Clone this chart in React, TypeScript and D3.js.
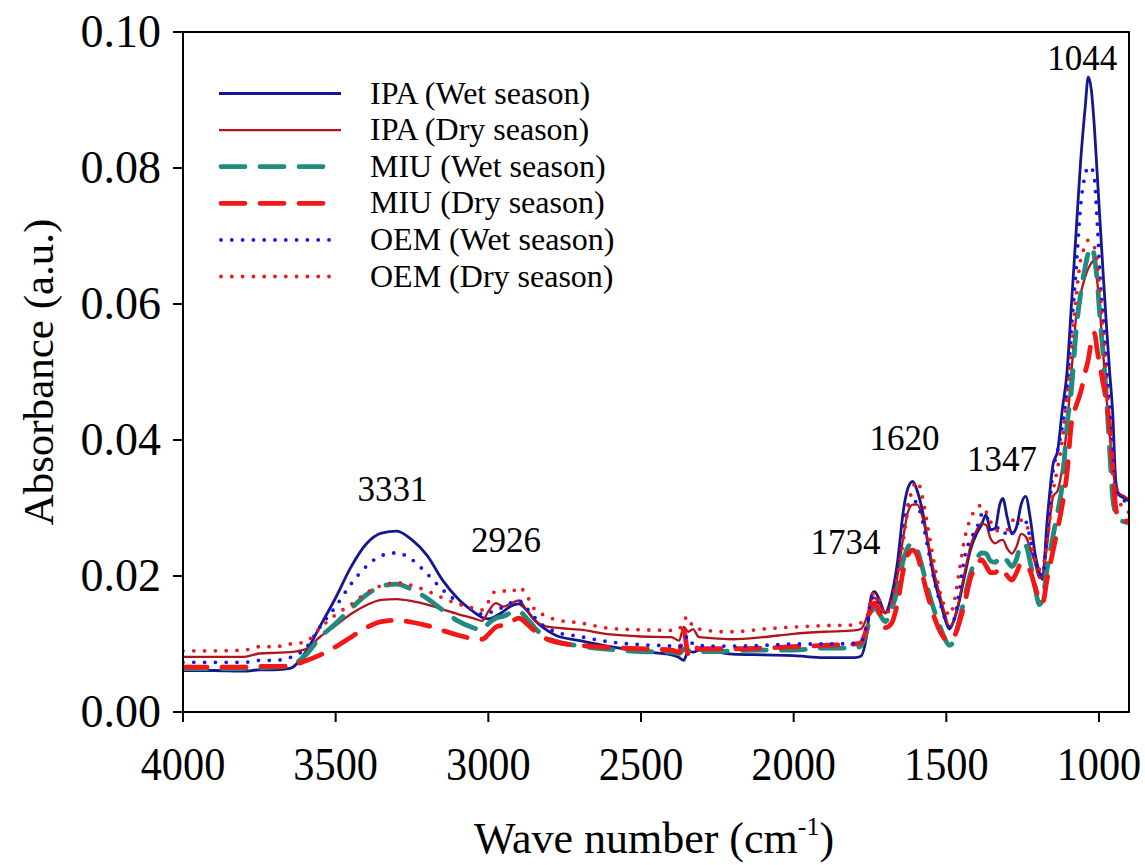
import React from "react";
import * as d3 from "d3";

// Wavenumber grid (cm-1)
const wavenumbers = [
  4000, 3900, 3800, 3750, 3700, 3650, 3600, 3550, 3500, 3450, 3400, 3350, 3300, 3250, 3200, 3150, 3100, 3050, 3020, 3000,
  2975, 2950, 2925, 2900, 2875, 2850, 2820, 2780, 2700, 2600, 2500, 2400, 2375, 2360, 2345, 2330, 2310, 2280, 2250, 2200,
  2100, 2000, 1900,
  1800, 1780, 1760, 1745, 1735, 1720, 1700, 1680, 1660, 1640, 1625, 1610, 1595, 1580, 1560, 1540, 1520, 1505, 1490, 1475,
  1460, 1440, 1420, 1400, 1385, 1370, 1355, 1340, 1325, 1315, 1300, 1285, 1270, 1255, 1240, 1225, 1210, 1195, 1185, 1170,
  1150, 1135, 1120, 1105, 1090, 1075, 1060, 1045, 1035, 1025, 1015, 1005, 995, 985, 975, 965, 955, 945, 935, 920, 900,
];

const ipaWet = [
  0.0061, 0.0061, 0.006, 0.0062, 0.0062, 0.0064, 0.0087, 0.0127, 0.0168, 0.0213, 0.0247, 0.0263, 0.0266, 0.0253, 0.023, 0.0194, 0.0167, 0.0148, 0.0139, 0.0137,
  0.0141, 0.0148, 0.0156, 0.0159, 0.015, 0.0136, 0.0124, 0.0113, 0.0105, 0.0096, 0.0089, 0.0084, 0.008, 0.0076, 0.009, 0.0088, 0.0091, 0.0089, 0.0088, 0.0085,
  0.0084, 0.0083, 0.008,
  0.008, 0.0082, 0.0115, 0.0172, 0.0177, 0.0166, 0.0146, 0.017, 0.022, 0.0298, 0.033, 0.0339, 0.0325, 0.03, 0.0248, 0.0196, 0.0163, 0.0138, 0.0122, 0.0135,
  0.0158, 0.02, 0.024, 0.0263, 0.0275, 0.029, 0.0268, 0.027, 0.0305, 0.0314, 0.0285, 0.0262, 0.0272, 0.0305, 0.0317, 0.0285, 0.0235, 0.0205, 0.0195, 0.028,
  0.0365, 0.0385, 0.0445, 0.0498, 0.06, 0.0705, 0.081, 0.089, 0.0934, 0.0915, 0.086, 0.0785, 0.071, 0.0635, 0.0565, 0.05, 0.044, 0.034, 0.032, 0.0315, 0.031,
];

const ipaDry = [
  0.0081, 0.0081, 0.0081, 0.0086, 0.0087, 0.0088, 0.0092, 0.0111, 0.0127, 0.0144, 0.0157, 0.0165, 0.0166, 0.0163, 0.0158, 0.0151, 0.0144, 0.0138, 0.0134, 0.0148,
  0.016, 0.0155, 0.016, 0.0164, 0.015, 0.0135, 0.0127, 0.0124, 0.0121, 0.0114, 0.0111, 0.011, 0.0105, 0.0125, 0.0118, 0.0122, 0.011, 0.0109, 0.0108, 0.0107,
  0.011, 0.0115, 0.0118,
  0.012, 0.0122, 0.014, 0.0165, 0.0168, 0.016, 0.0145, 0.016, 0.02, 0.026, 0.0295, 0.0305, 0.0305, 0.029, 0.025, 0.0205, 0.017, 0.0145, 0.0125, 0.0135,
  0.016, 0.0205, 0.0245, 0.0268, 0.0277, 0.0275, 0.0255, 0.0248, 0.0252, 0.0253, 0.024, 0.0233, 0.0243, 0.0262, 0.0258, 0.024, 0.022, 0.0197, 0.02, 0.0245,
  0.0317, 0.0326, 0.036, 0.042, 0.05, 0.058, 0.0615, 0.064, 0.0652, 0.066, 0.0665, 0.063, 0.058, 0.052, 0.046, 0.041, 0.036, 0.033, 0.0322, 0.0318, 0.0312,
];

const miuWet = [
  0.0064, 0.0064, 0.0064, 0.0065, 0.0066, 0.0068, 0.0083, 0.011, 0.013, 0.0152, 0.0172, 0.0185, 0.0188, 0.018, 0.0167, 0.015, 0.0134, 0.0124, 0.012, 0.013,
  0.0138, 0.0141, 0.0146, 0.0148, 0.0138, 0.0125, 0.0112, 0.0104, 0.0097, 0.0092, 0.0089, 0.0088, 0.0086, 0.0092, 0.009, 0.0092, 0.0089, 0.0089, 0.0089, 0.009,
  0.0091, 0.0091, 0.0094,
  0.0094, 0.0097, 0.012, 0.0148, 0.0153, 0.0145, 0.0133, 0.015, 0.018, 0.0225, 0.0243, 0.0248, 0.0238, 0.0215, 0.018, 0.015, 0.0125, 0.0108, 0.0098, 0.0105,
  0.013, 0.0168, 0.0205, 0.0225, 0.0234, 0.0233, 0.0222, 0.022, 0.0228, 0.023, 0.0222, 0.0214, 0.0225, 0.0247, 0.0245, 0.022, 0.0185, 0.0158, 0.0165, 0.021,
  0.026, 0.0295, 0.0335, 0.042, 0.0475, 0.056, 0.0615, 0.0655, 0.0675, 0.0684, 0.067, 0.063, 0.057, 0.052, 0.046, 0.0385, 0.0315, 0.0292, 0.0283, 0.028, 0.0278,
];

const miuDry = [
  0.0066, 0.0066, 0.0066, 0.0067, 0.0067, 0.0068, 0.0075, 0.0084, 0.0096, 0.011, 0.0124, 0.0133, 0.0135, 0.0132, 0.0127, 0.012, 0.0113, 0.0108, 0.0107, 0.0114,
  0.0125, 0.0128, 0.0133, 0.0138, 0.013, 0.012, 0.011, 0.0103, 0.0098, 0.0095, 0.0093, 0.0091, 0.0088, 0.012, 0.0085, 0.0097, 0.0093, 0.0093, 0.0093, 0.0093,
  0.0094, 0.0096, 0.0098,
  0.01, 0.0102, 0.0125, 0.0155, 0.016, 0.0148, 0.0124, 0.013, 0.016, 0.021, 0.0232, 0.0238, 0.023, 0.0205, 0.017, 0.014, 0.0118, 0.0108, 0.0105, 0.011,
  0.0128, 0.016, 0.0198, 0.0215, 0.0224, 0.0215, 0.0205, 0.0205, 0.0212, 0.021, 0.02, 0.0194, 0.0205, 0.0219, 0.0215, 0.0207, 0.0185, 0.0165, 0.016, 0.0195,
  0.0238, 0.027, 0.0305, 0.035, 0.0425, 0.045, 0.047, 0.05, 0.0518, 0.0545, 0.0557, 0.053, 0.0505, 0.048, 0.0455, 0.042, 0.036, 0.03, 0.0285, 0.028, 0.0282,
];

const oemWet = [
  0.0073, 0.0073, 0.0073, 0.0076, 0.0076, 0.008, 0.0093, 0.0126, 0.0155, 0.0188, 0.0214, 0.023, 0.0234, 0.0224, 0.0203, 0.018, 0.0162, 0.015, 0.0144, 0.0146,
  0.0149, 0.0155, 0.0161, 0.0164, 0.0153, 0.014, 0.0127, 0.0118, 0.0111, 0.0103, 0.0099, 0.0097, 0.0096, 0.0105, 0.0112, 0.01, 0.0098, 0.0097, 0.0097, 0.0097,
  0.0098, 0.01, 0.01,
  0.0101, 0.0103, 0.013, 0.0168, 0.0172, 0.016, 0.0142, 0.0165, 0.021, 0.0275, 0.0305, 0.0312, 0.0305, 0.0285, 0.024, 0.0195, 0.016, 0.0138, 0.0125, 0.0135,
  0.017, 0.0228, 0.0255, 0.027, 0.029, 0.0292, 0.0265, 0.0268, 0.0272, 0.027, 0.0258, 0.0262, 0.0275, 0.0282, 0.028, 0.0255, 0.0225, 0.0205, 0.02, 0.0265,
  0.0356, 0.0385, 0.042, 0.0474, 0.0565, 0.065, 0.0745, 0.079, 0.0802, 0.08, 0.0785, 0.0715, 0.063, 0.0578, 0.0512, 0.0452, 0.039, 0.033, 0.0318, 0.0312, 0.0303,
];

const oemDry = [
  0.009, 0.009, 0.0091, 0.0096, 0.0096, 0.01, 0.0103, 0.0124, 0.0143, 0.0158, 0.0175, 0.0186, 0.019, 0.0186, 0.0178, 0.0168, 0.0159, 0.0153, 0.015, 0.0162,
  0.0178, 0.0178, 0.0176, 0.0184, 0.0172, 0.0152, 0.0143, 0.0136, 0.0131, 0.0123, 0.0121, 0.012, 0.0122, 0.0135, 0.014, 0.0125, 0.0122, 0.012, 0.0118, 0.0118,
  0.0122, 0.0125, 0.0127,
  0.0128, 0.0131, 0.014, 0.017, 0.0175, 0.0165, 0.0142, 0.016, 0.02, 0.0255, 0.03, 0.033, 0.0339, 0.032, 0.027, 0.022, 0.0175, 0.0155, 0.0142, 0.016,
  0.02, 0.0255, 0.0285, 0.03, 0.0304, 0.0295, 0.028, 0.0268, 0.0266, 0.0266, 0.0268, 0.028, 0.0287, 0.0282, 0.0278, 0.0255, 0.0225, 0.021, 0.0212, 0.025,
  0.0325, 0.036, 0.04, 0.0465, 0.0535, 0.061, 0.0665, 0.0685, 0.0694, 0.069, 0.0684, 0.066, 0.061, 0.0555, 0.0485, 0.042, 0.0355, 0.032, 0.031, 0.03, 0.0293,
];

const seriesNames = [
  "IPA (Wet season)",
  "IPA (Dry season)",
  "MIU (Wet season)",
  "MIU (Dry season)",
  "OEM (Wet season)",
  "OEM (Dry season)",
];

const xTicks = [4000, 3500, 3000, 2500, 2000, 1500, 1000];
const yTicks = [0, 0.02, 0.04, 0.06, 0.08, 0.1];

const peakLabels = ["3331", "2926", "1734", "1620", "1347", "1044"];
const peakPositions = [3314, 2942, 1830, 1637, 1318, 1055];
const peakLevels = [0.0311, 0.0235, 0.0232, 0.0386, 0.0354, 0.0944];

const styles = [
  { color: "#17178c", width: 2.8, dash: null as string | null, cap: "butt" },
  { color: "#b3141c", width: 2.3, dash: null, cap: "butt" },
  { color: "#228b7f", width: 4.8, dash: "24,15", cap: "round" },
  { color: "#f51616", width: 4.8, dash: "24,15", cap: "round" },
  { color: "#1414f5", width: 3.8, dash: "0,10.8", cap: "round" },
  { color: "#f01818", width: 3.8, dash: "0,10.8", cap: "round" },
];

const W = 1145;
const H = 865;
const M = { left: 183, right: 1129, top: 32, bottom: 712 };
const FONT = "'Liberation Serif', 'Times New Roman', serif";

export default function App() {
  const x = d3.scaleLinear().domain([4000, 900]).range([M.left, M.right + 0.5]);
  const y = d3.scaleLinear().domain([0, 0.1]).range([M.bottom, M.top]);
  const allSeries = [ipaWet, ipaDry, miuWet, miuDry, oemWet, oemDry];
  const line = d3
    .line<[number, number]>()
    .x((d) => x(d[0]))
    .y((d) => y(d[1]))
    .curve(d3.curveMonotoneX);

  const legendY0 = 93.5;
  const legendStep = 36.6;

  return (
    <svg
      width={W}
      height={H}
      style={{ position: "absolute", left: 0, top: 0, background: "#fff" }}
      fontFamily={FONT}
    >
      <rect x={0} y={0} width={W} height={H} fill="#fff" />
      <defs>
        <clipPath id="plotclip">
          <rect x={M.left} y={M.top} width={M.right - M.left} height={M.bottom - M.top} />
        </clipPath>
      </defs>

      {/* series */}
      <g clipPath="url(#plotclip)" fill="none">
        {allSeries.map((vals, i) => {
          const n = Math.min(vals.length, wavenumbers.length);
          const pts: [number, number][] = [];
          for (let k = 0; k < n; k++) pts.push([wavenumbers[k], vals[k]]);
          const s = styles[i];
          return (
            <path
              key={i}
              d={line(pts) || ""}
              stroke={s.color}
              strokeWidth={s.width}
              strokeDasharray={s.dash || undefined}
              strokeLinecap={s.cap as any}
              strokeLinejoin="round"
            />
          );
        })}
      </g>

      {/* frame */}
      <rect
        x={M.left}
        y={M.top}
        width={M.right - M.left}
        height={M.bottom - M.top}
        fill="none"
        stroke="#000"
        strokeWidth={2}
      />

      {/* x ticks */}
      {xTicks.map((t) => (
        <g key={t}>
          <line x1={x(t)} x2={x(t)} y1={M.bottom} y2={M.bottom + 10} stroke="#000" strokeWidth={2} />
          <text
            transform={`translate(${x(t)}, 780) scale(0.92, 1)`}
            textAnchor="middle"
            fontSize={46}
            fill="#000"
          >
            {t}
          </text>
        </g>
      ))}

      {/* y ticks */}
      {yTicks.map((t) => (
        <g key={t}>
          <line x1={M.left - 10} x2={M.left} y1={y(t)} y2={y(t)} stroke="#000" strokeWidth={2} />
          <text x={161} y={y(t) + 15} textAnchor="end" fontSize={46} fill="#000">
            {d3.format(".2f")(t)}
          </text>
        </g>
      ))}

      {/* axis titles */}
      <text x={654} y={853} textAnchor="middle" fontSize={44} fill="#000">
        Wave number (cm
        <tspan fontSize={26} dy={-18}>-1</tspan>
        <tspan dy={18}>)</tspan>
      </text>
      <text
        transform={`translate(53, 372) rotate(-90)`}
        textAnchor="middle"
        fontSize={43}
        fill="#000"
      >
        Absorbance (a.u.)
      </text>

      {/* peak labels */}
      {peakLabels.map((lab, i) => (
        <text
          key={lab}
          x={x(peakPositions[i])}
          y={y(peakLevels[i])}
          textAnchor="middle"
          fontSize={35}
          fill="#000"
        >
          {lab}
        </text>
      ))}

      {/* legend */}
      {seriesNames.map((name, i) => {
        const s = styles[i];
        const ly = legendY0 + i * legendStep;
        const isDot = !!s.dash && s.dash.startsWith("0");
        const x1 = s.dash ? 221 : 219;
        const x2 = isDot ? 333 : s.dash ? 328 : 341;
        return (
          <g key={name}>
            <line
              x1={x1}
              x2={x2}
              y1={ly}
              y2={ly}
              stroke={s.color}
              strokeWidth={s.width}
              strokeDasharray={s.dash || undefined}
              strokeLinecap={s.cap as any}
            />
            <text x={370} y={ly + 10} fontSize={32} fill="#000">
              {name}
            </text>
          </g>
        );
      })}
    </svg>
  );
}
